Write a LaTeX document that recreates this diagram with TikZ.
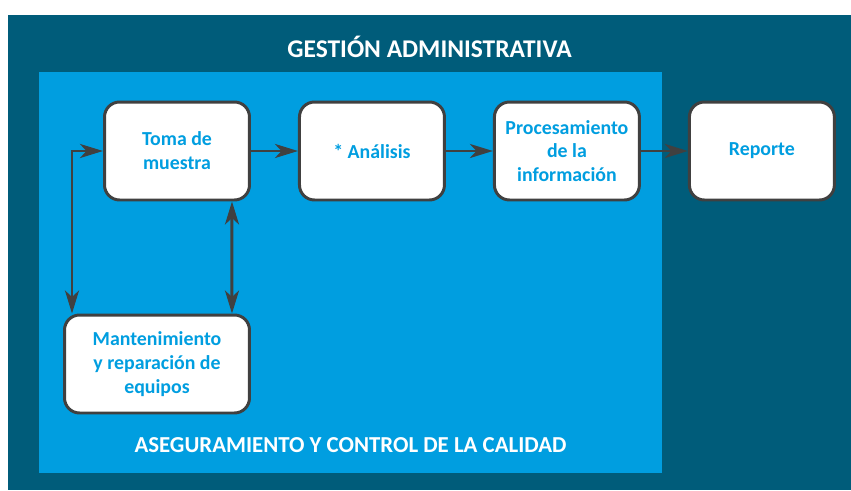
\documentclass[tikz,border=0pt]{standalone}
\usepackage{fontspec}
\setmainfont{Carlito}
\usepackage{xcolor}
\usetikzlibrary{positioning,arrows.meta}

\definecolor{gestion}{RGB}{0,92,122}
\definecolor{calidad}{RGB}{0,158,224}
\definecolor{flecha}{RGB}{64,64,64}

\begin{document}
\begin{tikzpicture}[x=0.02cm,y=-0.02cm,font=\bfseries,>={Stealth[length=4.6mm,width=2.8mm,inset=1.3mm]},
  node distance=3.9cm,on grid,
  paso/.style={rectangle,rounded corners=0.3cm,draw=flecha,line width=1.7pt,fill=white,
    minimum width=2.9cm,minimum height=1.96cm,align=center,text=calidad,
    font=\fontsize{11.3}{13.6}\selectfont\bfseries},
  titulo/.style={text=white,font=\fontsize{13}{15}\selectfont\bfseries},
  con/.style={draw=flecha,line width=1.7pt}]
\useasboundingbox (0,0) rectangle (851,490);
\fill[gestion] (8,15) rectangle (851,490);
\fill[calidad] (39,72) rectangle (662,473);
\node[titulo,font=\fontsize{14.5}{17}\selectfont\bfseries] (tgest) at (429.5,47) {GESTIÓN ADMINISTRATIVA};
\node[titulo] (tcal) at (350.5,445) {ASEGURAMIENTO Y CONTROL DE LA CALIDAD};
% flujo principal
\node[paso] (toma) at (177,151) {Toma de\\muestra};
\node[paso,right=of toma] (anal) {* Análisis};
\node[paso,right=of anal] (proc) {Procesamiento\\de la\\información};
\node[paso,right=of proc] (rep) {Reporte};
\node[paso,minimum width=3.7cm] (mant) at (157,364) {Mantenimiento\\y reparación de\\equipos};
\draw[con,->] (toma) -- (anal);
\draw[con,->] (anal) -- (proc);
\draw[con,->] (proc) -- (rep);
% mantenimiento
\coordinate (lft) at (72,151);
\draw[con,<->] (toma.west) -- (lft) -- (lft |- mant.north);
\draw[con,<->] ([xshift=1.1cm]toma.south) -- ([xshift=1.5cm]mant.north);
\end{tikzpicture}
\end{document}
